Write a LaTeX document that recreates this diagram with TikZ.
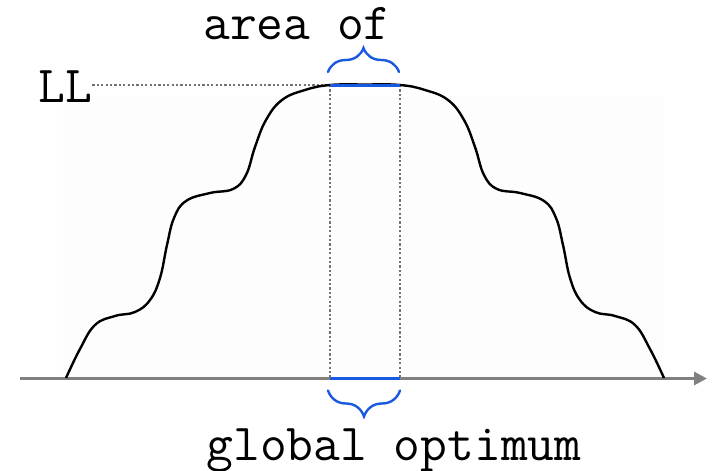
\documentclass[tikz,border=0pt]{standalone}
\usetikzlibrary{arrows.meta,decorations.pathreplacing}
\definecolor{optblue}{RGB}{25,90,225}
\definecolor{axisgray}{RGB}{128,128,128}
\tikzset{
  guide/.style={black!55, line width=2.4pt, dash pattern=on 2.2pt off 2.2pt},
  optbar/.style={optblue, line width=3pt},
  optbrace/.style={optblue, line width=2.4pt, line cap=round, decorate},
  txt/.style={font=\fontsize{52}{60}\selectfont\ttfamily, inner sep=0pt, anchor=base}
}
\begin{document}
\begin{tikzpicture}[x=1pt, y=-1pt]
  \useasboundingbox (0,0) rectangle (716,471);
  % faint backdrop
  \fill[black!0.8] (63,97) rectangle (664,378);
  % corners of the optimum strip
  \coordinate (L) at (330,85);
  \coordinate (R) at (400,85);
  \coordinate (Lb) at (330,378.5);
  \coordinate (Rb) at (400,378.5);
  % labels
  \node[txt] (area) at (297,39) {area of};
  \node[txt] (ll) at (65.5,102) {LL};
  \node[txt] (glob) at (394,460) {global optimum};
  % dotted guides
  \draw[guide] (ll.east |- L) -- (L);
  \draw[guide] (L) -- (Lb);
  \draw[guide] (R) -- (Rb);
  % axis
  \coordinate (xs) at (20,378.5);
  \coordinate (xe) at (707,378.5);
  \draw[axisgray, line width=3pt, -{Triangle[length=13pt,width=13pt]}] (xs) -- (xe);
  % likelihood curve
  \draw[line width=2.4pt, line join=round] plot[smooth, tension=0.7] coordinates {
    (66,378) (80,349) (95,325) (115,316) (135,312) (150,300) (160,278)
    (167,245) (174,218) (186,201) (210,193) (233,189) (246,175)
    (255,147) (266,120) (282,100) (305,90) (330,85) (365,84.5)
    (400,85) (425,90) (448,100) (464,120) (475,147) (484,175)
    (497,189) (520,193) (544,201) (556,218) (563,245) (570,278)
    (580,300) (595,312) (615,316) (635,325) (650,349) (664,378)};
  % optimum strip
  \draw[optbar] (L) -- (R);
  \draw[optbar] (Lb) -- (Rb);
  % braces
  \draw[optbrace, decoration={brace, amplitude=24pt}]
    ([xshift=-2pt, yshift=13pt]L) -- ([xshift=-1pt, yshift=13pt]R);
  \draw[optbrace, decoration={brace, amplitude=26pt}]
    ([yshift=-12pt]Rb) -- ([xshift=-2pt, yshift=-12pt]Lb);
\end{tikzpicture}
\end{document}
